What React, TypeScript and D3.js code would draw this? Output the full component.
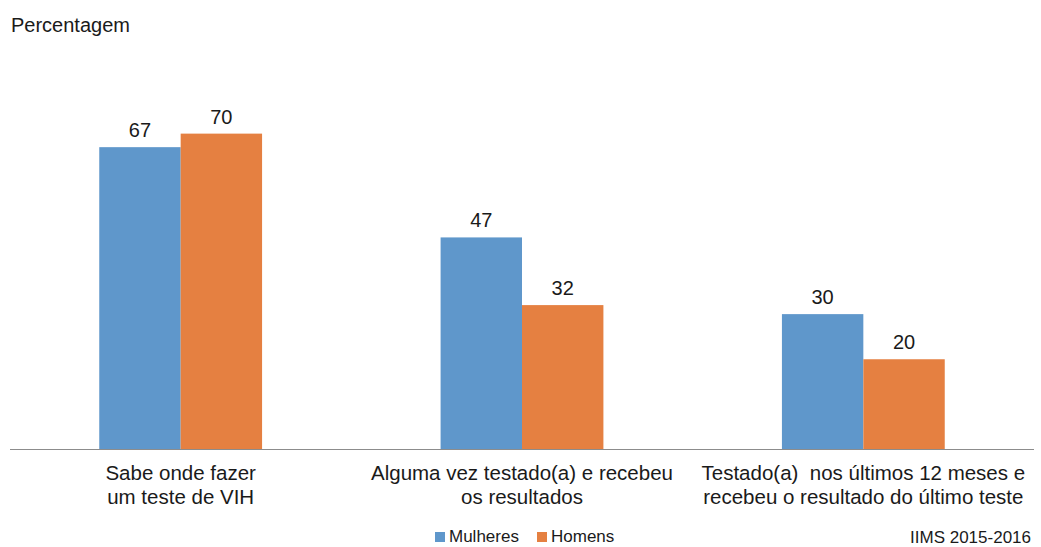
import React from "react";
import * as d3 from "d3";

const categories = [
  ["Sabe onde fazer", "um teste de VIH"],
  ["Alguma vez testado(a) e recebeu", "os resultados"],
  ["Testado(a)  nos últimos 12 meses e", "recebeu o resultado do último teste"],
];
const seriesNames = ["Mulheres", "Homens"];
const mulheres = [67, 47, 30];
const homens = [70, 32, 20];
const colors = ["#5F97CB", "#E58041"];

const W = 1041;
const H = 547;
const left = 10;
const right = 1034;
const baseY = 449.5;

export default function App() {
  const x0 = d3
    .scaleBand<number>()
    .domain(d3.range(categories.length))
    .range([left, right])
    .paddingInner(0.523)
    .paddingOuter(0.2615);
  const x1 = d3
    .scaleBand<number>()
    .domain([0, 1])
    .range([0, x0.bandwidth()]);
  const y = d3.scaleLinear().domain([0, 80]).range([baseY, baseY - 361]);
  const series = [mulheres, homens];
  const font = "'Liberation Sans', Arial, sans-serif";

  return (
    <svg
      width={W}
      height={H}
      style={{ position: "absolute", left: 0, top: 0, fontFamily: font }}
    >
      <rect width={W} height={H} fill="#fff" />
      <text x={11} y={32} fontSize={20} fill="#1a1a1a">
        Percentagem
      </text>
      {categories.map((_, ci) =>
        series.map((vals, si) => {
          const bx = (x0(ci) as number) + (x1(si) as number);
          const bw = x1.bandwidth();
          return (
            <g key={`${ci}-${si}`}>
              <rect
                x={bx}
                y={y(vals[ci])}
                width={bw}
                height={baseY - y(vals[ci])}
                fill={colors[si]}
              />
              <text
                x={bx + bw / 2}
                y={y(vals[ci]) - 10}
                textAnchor="middle"
                fontSize={20}
                fill="#1a1a1a"
              >
                {vals[ci]}
              </text>
            </g>
          );
        })
      )}
      <line x1={left} x2={right} y1={baseY} y2={baseY} stroke="#8c8c8c" strokeWidth={1.2} />
      {categories.map((lines, ci) => (
        <text
          key={ci}
          x={(x0(ci) as number) + x0.bandwidth() / 2}
          textAnchor="middle"
          fontSize={20.5}
          fill="#1a1a1a"
          style={{ whiteSpace: "pre" }}
        >
          {lines.map((l, li) => (
            <tspan key={li} x={(x0(ci) as number) + x0.bandwidth() / 2} y={480 + li * 24}>
              {l}
            </tspan>
          ))}
        </text>
      ))}
      {seriesNames.map((name, si) => {
        const lx = si === 0 ? 435 : 537;
        return (
          <g key={name}>
            <rect x={lx} y={532} width={10} height={10} fill={colors[si]} />
            <text x={lx + 14} y={542} fontSize={17} fill="#1a1a1a">
              {name}
            </text>
          </g>
        );
      })}
      <text x={1031} y={543} textAnchor="end" fontSize={17} fill="#1a1a1a">
        IIMS 2015-2016
      </text>
    </svg>
  );
}
